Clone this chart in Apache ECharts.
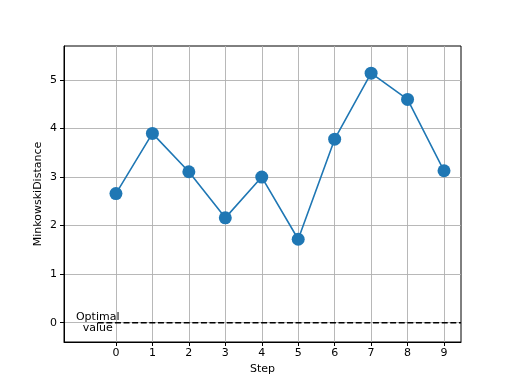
<!DOCTYPE html>
<html><head><meta charset="utf-8">
<script src="https://cdn.jsdelivr.net/npm/echarts@6/dist/echarts.min.js"></script>
<style>html,body{margin:0;padding:0;background:#fff}#c{width:512px;height:384px}</style>
</head><body><div id="c"></div>
<script>
var steps = [0,1,2,3,4,5,6,7,8,9];
var distances = [2.66,3.90,3.11,2.16,3.00,1.72,3.78,5.14,4.60,3.13];
var xTicks = [0,1,2,3,4,5,6,7,8,9];
var yTicks = [0,1,2,3,4,5];
var optimalValue = 0;
var optimalStart = -0.5;
var xMin = -1.425, xMax = 9.466, yMin = -0.397, yMax = 5.70;

var font = 'DejaVu Sans';
var chart = echarts.init(document.getElementById('c'), null, {renderer:'canvas'});
chart.setOption({
  animation:false,
  grid:{left:64, top:46, width:397, height:296, show:true, borderColor:'#000', borderWidth:1, backgroundColor:'transparent'},
  xAxis:{type:'value', min:xMin, max:xMax,
    name:'Step', nameLocation:'middle', nameGap:22, nameTextStyle:{fontFamily:font,fontSize:11,color:'#000'},
    axisLine:{show:true, onZero:false, lineStyle:{color:'#000', width:1}},
    axisTick:{show:true, inside:false, customValues:xTicks, length:4, lineStyle:{color:'#000',width:1}},
    axisLabel:{customValues:xTicks, fontFamily:font, fontSize:11, color:'#000', margin:6},
    splitLine:{show:true, lineStyle:{color:'#b0b0b0', width:0.9}}
  },
  yAxis:{type:'value', min:yMin, max:yMax,
    name:'MinkowskiDistance', nameLocation:'middle', nameGap:20, nameMoveOverlap:false,
    nameTextStyle:{fontFamily:font,fontSize:11,color:'#000'},
    axisLine:{show:true, onZero:false, lineStyle:{color:'#000', width:1}},
    axisTick:{show:true, inside:false, customValues:yTicks, length:4, lineStyle:{color:'#000',width:1}},
    axisLabel:{customValues:yTicks, fontFamily:font, fontSize:11, color:'#000', margin:7},
    splitLine:{show:true, lineStyle:{color:'#b0b0b0', width:0.9}}
  },
  series:[
    {type:'line', data:[[optimalStart,optimalValue],[xMax,optimalValue]], symbol:'none', silent:true,
      lineStyle:{color:'#000', width:1.6, type:[6,2.6]}, z:3,
      markPoint:{symbol:'circle', symbolSize:0, data:[{coord:[optimalStart,optimalValue], value:''}],
        label:{show:true, formatter:'Optimal\nvalue', fontFamily:font, fontSize:11, color:'#000', align:'center', verticalAlign:'middle', lineHeight:11}}
    },
    {type:'line', data:steps.map(function(s,i){return [s,distances[i]];}),
      symbol:'circle', symbolSize:13, showAllSymbol:true,
      lineStyle:{color:'#1f77b4', width:1.6}, itemStyle:{color:'#1f77b4'}, z:4}
  ]
});
</script></body></html>
